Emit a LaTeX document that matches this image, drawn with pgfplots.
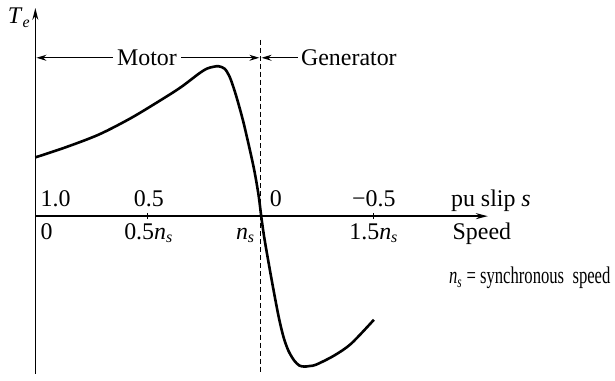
\documentclass[12pt,border=0pt]{standalone}
\usepackage{fontspec}
\setmainfont{Liberation Serif}
\usepackage{graphicx}
\usepackage{pgfplots}
\pgfplotsset{compat=1.18}
\usetikzlibrary{arrows.meta}

\newcommand{\ns}{\textit{n}\textsubscript{\textit{s}}}

\begin{document}
\begin{tikzpicture}
\begin{axis}[
  x=113pt, y=50pt,
  xmin=0, xmax=2.01, ymin=-1.58, ymax=2.09,
  axis lines=middle,
  axis line style={line width=0.75pt},
  x axis line style={-{Stealth[length=6pt,width=3pt]}},
  y axis line style={-{Stealth[length=6pt,width=3pt]}},
  xtick={0.5,1.5}, xticklabels={}, ytick=\empty,
  major tick length=3pt, tick style={thin,black},
  clip=false,
]
% overall picture extent
\path (axis cs:-0.146,2.17) rectangle (axis cs:2.575,-1.65);

% torque-speed characteristic (speed in units of n_s)
\addplot[black, line width=1.3pt, smooth] coordinates {
  (0.000, 0.59) (0.133, 0.69) (0.283, 0.82) (0.429, 0.99)
  (0.575, 1.19) (0.650, 1.30) (0.726, 1.43) (0.761, 1.48)
  (0.792, 1.50) (0.814, 1.505) (0.841, 1.48) (0.863, 1.40)
  (0.885, 1.26) (0.907, 1.09) (0.929, 0.90) (0.969, 0.50)
  (0.991, 0.22) (1.004,-0.01) (1.018,-0.23) (1.049,-0.63)
  (1.080,-1.00) (1.102,-1.21) (1.124,-1.35) (1.150,-1.45)
  (1.173,-1.50) (1.195,-1.51) (1.217,-1.505) (1.248,-1.49)
  (1.327,-1.40) (1.403,-1.28) (1.504,-1.04)
};

% synchronous speed
\draw[black, line width=0.8pt, dash pattern=on 2.5pt off 1.5pt]
  (axis cs:1,1.77) -- (axis cs:1,-1.58);

% operating regions
\draw[line width=0.6pt, {Stealth[length=5pt,width=3pt]}-{Stealth[length=5pt,width=3pt]}]
  (axis cs:0.005,1.59) -- (axis cs:0.995,1.59);
\node[fill=white, inner sep=2pt] at (axis cs:0.496,1.59) {Motor};
\draw[line width=0.6pt, {Stealth[length=5pt,width=3pt]}-]
  (axis cs:1.005,1.59) -- (axis cs:1.165,1.59);
\node[anchor=west, inner sep=1pt] at (axis cs:1.17,1.59) {Generator};

% axis annotations
\node[anchor=base] at (axis cs:-0.071,1.93) {\textit{T}\textsubscript{\textit{e}}};

\node[anchor=base west, inner sep=0pt] at (axis cs:0.022,0.10) {1.0};
\node[anchor=base, inner sep=0pt] at (axis cs:0.504,0.10) {0.5};
\node[anchor=base west, inner sep=0pt] at (axis cs:1.04,0.10) {0};
\node[anchor=base, inner sep=0pt] at (axis cs:1.504,0.10) {−0.5};
\node[anchor=base west, inner sep=0pt] at (axis cs:1.845,0.10) {pu slip \textit{s}};

\node[anchor=base west, inner sep=0pt] at (axis cs:0.022,-0.23) {0};
\node[anchor=base, inner sep=0pt] at (axis cs:0.504,-0.23) {0.5\ns};
\node[anchor=base, inner sep=0pt] at (axis cs:0.934,-0.23) {\ns};
\node[anchor=base, inner sep=0pt] at (axis cs:1.504,-0.23) {1.5\ns};
\node[anchor=base west, inner sep=0pt] at (axis cs:1.852,-0.23) {Speed};

\node[anchor=base west, inner sep=0pt] at (axis cs:1.836,-0.68)
  {\resizebox{81pt}{\height}{\ns\ = synchronous\ \ speed}};
\end{axis}
\end{tikzpicture}
\end{document}
